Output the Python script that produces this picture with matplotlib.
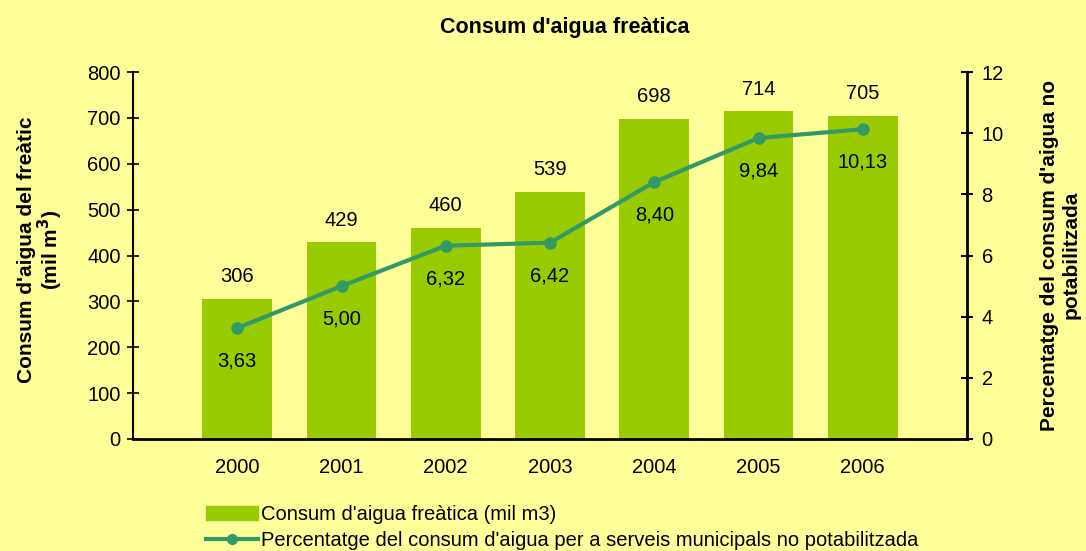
import numpy as np
import matplotlib
matplotlib.use("Agg")
import matplotlib.pyplot as plt
from matplotlib.lines import Line2D
from matplotlib.patches import Patch

years = ["2000", "2001", "2002", "2003", "2004", "2005", "2006"]
consum = [306, 429, 460, 539, 698, 714, 705]
percent = [3.63, 5.00, 6.32, 6.42, 8.40, 9.84, 10.13]

BG = "#FFFF99"
BAR = "#99CC00"
LINE = "#339966"

plt.rcParams["font.family"] = ["Liberation Sans", "DejaVu Sans"]

fig = plt.figure(figsize=(10.86, 5.51), dpi=100, facecolor=BG)
ax = fig.add_axes([133 / 1086, 1 - 439 / 551, (967 - 133) / 1086, (439 - 72) / 551])
ax.set_facecolor(BG)
x = np.arange(len(years))

ax.bar(x, consum, width=0.67, color=BAR, zorder=2)
for xi, v in zip(x, consum):
    ax.annotate(f"{v}", (xi, v), xytext=(0, 9), textcoords="offset points",
                ha="center", va="bottom", fontsize=14.5)
ax.set_xlim(-1, 7)
ax.set_ylim(0, 800)
ax.set_yticks(range(0, 801, 100))
ax.set_xticks(x)
ax.set_xticklabels(years)
ax.tick_params(axis="y", direction="inout", length=8, width=1.2, labelsize=14.5, pad=5)
ax.tick_params(axis="x", length=0, labelsize=14.5, pad=14)
for s in ["top", "right"]:
    ax.spines[s].set_visible(False)
ax.spines["left"].set_linewidth(1.5)
ax.spines["bottom"].set_linewidth(2)

ax2 = ax.twinx()
ax2.plot(x, percent, color=LINE, lw=3, marker="o", ms=8, zorder=3)
for xi, v in zip(x, percent):
    ax2.annotate(f"{v:.2f}".replace(".", ","), (xi, v), xytext=(0, -17),
                 textcoords="offset points", ha="center", va="top", fontsize=14.5)
ax2.set_ylim(0, 12)
ax2.set_yticks(range(0, 13, 2))
ax2.tick_params(axis="y", direction="inout", length=9, width=1.5, labelsize=14.5, pad=6)
for s in ["top", "left", "bottom"]:
    ax2.spines[s].set_visible(False)
ax2.spines["right"].set_linewidth(2)

fig.text(565 / 1086, 1 - 28 / 551, "Consum d'aigua freàtica", ha="center", va="center",
         fontsize=15.5, fontweight="bold")
fig.text(41 / 1086, 1 - 250 / 551, "Consum d'aigua del freàtic\n(mil m$^{\\mathbf{3}}$)",
         ha="center", va="center", rotation=90, fontsize=15, fontweight="bold",
         linespacing=1.0)
fig.text(1060 / 1086, 1 - 255 / 551, "Percentatge del consum d'aigua no\npotabilitzada",
         ha="center", va="center", rotation=90, fontsize=15, fontweight="bold",
         linespacing=1.15)

handles = [Patch(color=BAR),
           Line2D([], [], color=LINE, lw=3, marker="o", ms=7)]
labels = ["Consum d'aigua freàtica (mil m3)",
          "Percentatge del consum d'aigua per a serveis municipals no potabilitzada"]
fig.legend(handles, labels, loc="upper left", bbox_to_anchor=(206 / 1086, 1 - 505 / 551),
           frameon=False, fontsize=14.5, handlelength=2.6, handletextpad=0.15,
           labelspacing=0.35, borderaxespad=0, borderpad=0)

fig.savefig("out.png", dpi=100, facecolor=BG)
